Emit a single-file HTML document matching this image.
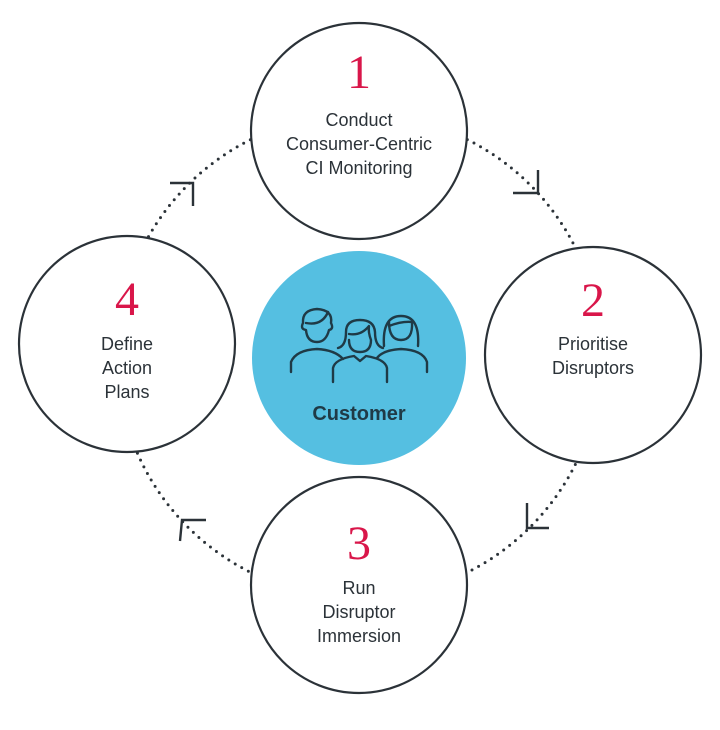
<!DOCTYPE html>
<html><head><style>
body{margin:0;background:#fff;width:720px;height:730px;overflow:hidden}
svg{display:block}
.t{font-family:"Liberation Sans",sans-serif;font-size:18px;fill:#2b3238;text-anchor:middle}
.n{font-family:"Liberation Serif",serif;font-size:48px;fill:#d9164a;text-anchor:middle}
</style></head><body>
<svg width="720" height="730" viewBox="0 0 720 730">
<circle cx="359" cy="356" r="242" fill="none" stroke="#2b3238" stroke-width="3" stroke-dasharray="0 7.5" stroke-linecap="round"/>
<g fill="none" stroke="#2b3238" stroke-width="2.4">
<polyline points="538,170 538,193 513,193"/>
<polyline points="527,503 527,528 549,528"/>
<polyline points="180,541 182,520 206,520"/>
<polyline points="170,183 193,183 193,206"/>
</g>
<g fill="#fff" stroke="#2b3238" stroke-width="2.2">
<circle cx="359" cy="131" r="108"/>
<circle cx="593" cy="355" r="108"/>
<circle cx="359" cy="585" r="108"/>
<circle cx="127" cy="344" r="108"/>
</g>
<circle cx="359" cy="358" r="107" fill="#55bfe1"/>
<g fill="none" stroke="#1f3a46" stroke-width="2.4" stroke-linecap="round" stroke-linejoin="round">
<path d="M291,372 v-10 q5,-12 26,-13 q18,1 26,10"/>
<path d="M306,330 q-6,-1 -3,-7 q-1,-13 14,-14 q16,1 14,14 q3,6 -2,7 q-3,12 -12,12 q-10,0 -11,-12z"/>
<path d="M306,323 q16,3 22,-11"/>
<path d="M333,382 v-14 q2,-9 21,-12 l6,5 l6,-5 q19,3 21,12 v14"/>
<path d="M338,348 q8,-2 8,-16 q0,-12 14,-12 q14,0 15,12 q0,14 8,16"/>
<path d="M349,340 q0,12 11,12 q11,0 11,-12 q-3,-8 -2,-14 q-8,10 -20,8"/>
<path d="M377,358 q6,-8 24,-9 q22,1 26,13 v10"/>
<path d="M384,346 q-2,-30 17,-30 q19,0 17,30"/>
<path d="M389,322 q0,18 12,18 q12,0 11,-18 q-10,-1 -23,4"/>
</g>
<text x="359" y="420" text-anchor="middle" font-family="Liberation Sans,sans-serif" font-weight="bold" font-size="20" fill="#1f3a46">Customer</text>
<text class="n" x="359" y="88">1</text>
<text class="t" x="359" y="126">Conduct</text>
<text class="t" x="359" y="150">Consumer-Centric</text>
<text class="t" x="359" y="174">CI Monitoring</text>
<text class="n" x="593" y="316">2</text>
<text class="t" x="593" y="350">Prioritise</text>
<text class="t" x="593" y="374">Disruptors</text>
<text class="n" x="359" y="559">3</text>
<text class="t" x="359" y="594">Run</text>
<text class="t" x="359" y="618">Disruptor</text>
<text class="t" x="359" y="642">Immersion</text>
<text class="n" x="127" y="315">4</text>
<text class="t" x="127" y="350">Define</text>
<text class="t" x="127" y="374">Action</text>
<text class="t" x="127" y="398">Plans</text>
</svg>
</body></html>
